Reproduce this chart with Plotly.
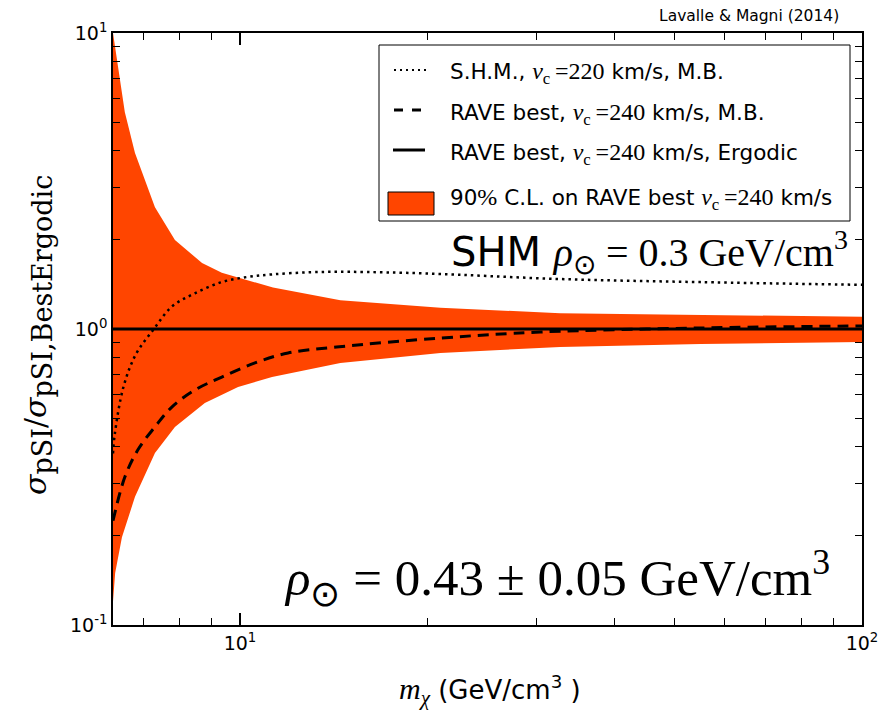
import numpy as np
import plotly.graph_objects as go

# ---------------- data ----------------
# 90% C.L. band on the RAVE best-fit halo (upper and lower edges)
band_upper_mass = [6.25, 6.36, 6.53, 6.78, 7.30, 7.86, 8.69, 9.35, 10.0, 11.3, 14.5, 21.0, 32.7, 55.0, 100.0]
band_upper = [10.0, 7.9, 5.4, 3.93, 2.58, 2.0, 1.67, 1.55, 1.49, 1.38, 1.25, 1.18, 1.13, 1.115, 1.10]
band_lower_mass = [6.25, 6.30, 6.46, 6.78, 7.30, 7.86, 8.78, 9.93, 11.26, 12.7, 14.5, 21.0, 32.7, 55.0, 100.0]
band_lower = [0.12, 0.15, 0.198, 0.271, 0.381, 0.467, 0.562, 0.637, 0.689, 0.727, 0.768, 0.83, 0.869, 0.89, 0.904]

# S.H.M., v_c = 220 km/s, Maxwell-Boltzmann
shm_mass = [6.25, 6.29, 6.5, 6.8, 7.27, 7.77, 8.46, 9.35, 10.3, 11.3, 13.0, 15.0, 20.0, 32.7, 55.0, 100.0]
shm = [0.38, 0.44, 0.64, 0.82, 1.0, 1.19, 1.32, 1.44, 1.50, 1.53, 1.555, 1.56, 1.54, 1.475, 1.44, 1.41]

# RAVE best, v_c = 240 km/s, Maxwell-Boltzmann
mb_mass = [6.25, 6.53, 6.85, 7.30, 7.77, 8.46, 9.35, 10.57, 11.95, 14.3, 21.0, 30.4, 55.0, 100.0]
mb = [0.225, 0.316, 0.39, 0.467, 0.545, 0.622, 0.688, 0.768, 0.83, 0.869, 0.932, 0.977, 1.008, 1.024]

# RAVE best, v_c = 240 km/s, Ergodic (reference)
ergodic_mass = [6.25, 100.0]
ergodic = [1.0, 1.0]

x_major = [10, 100]
x_major_text = ["10<sup>1</sup>", "10<sup>2</sup>"]
x_minor = [7, 8, 9, 20, 30, 40, 50, 60, 70, 80, 90]
y_major = [0.1, 1, 10]
y_major_text = ["10<sup>-1</sup>", "10<sup>0</sup>", "10<sup>1</sup>"]
y_minor = [0.2, 0.3, 0.4, 0.5, 0.6, 0.7, 0.8, 0.9, 2, 3, 4, 5, 6, 7, 8, 9]

ORANGE = "#ff4500"
SANS = "DejaVu Sans"
SERIF = "Liberation Serif"

# ---------------- layout geometry (pixels) ----------------
W, H = 895, 715
L, R, T, B = 113, 33, 33, 90
PW, PH = W - L - R, H - T - B


def px(x):
    return (x - L) / PW


def py(y):
    return (H - B - y) / PH


def serif(s, size=None, family=SERIF):
    extra = f";font-size:{size}px" if size else ""
    return f"<span style='font-family:{family}{extra}'>{s}</span>"


fig = go.Figure()

fig.add_trace(go.Scatter(
    x=band_upper_mass + band_lower_mass[::-1],
    y=band_upper + band_lower[::-1],
    mode="lines", fill="toself", fillcolor=ORANGE,
    line=dict(width=0, color=ORANGE), showlegend=False, hoverinfo="skip"))

fig.add_trace(go.Scatter(
    x=ergodic_mass, y=ergodic, mode="lines",
    line=dict(color="black", width=3), showlegend=False))

fig.add_trace(go.Scatter(
    x=mb_mass, y=mb, mode="lines", line_shape="spline",
    line=dict(color="black", width=3, dash="11px,7px"), showlegend=False))

fig.add_trace(go.Scatter(
    x=shm_mass, y=shm, mode="lines", line_shape="spline",
    line=dict(color="black", width=2.5, dash="2.5px,4px"), showlegend=False))

axis_common = dict(
    showgrid=False, zeroline=False, showline=True, linecolor="black", linewidth=1.5,
    mirror="allticks", ticks="inside", ticklen=12, tickwidth=2, tickcolor="black",
    tickfont=dict(family=SANS, size=19, color="black"),
)

fig.update_xaxes(type="log", range=[np.log10(6.25), 2], tickvals=x_major, ticktext=x_major_text,
                 minor=dict(tickvals=x_minor, ticks="inside", ticklen=7, tickwidth=1.2,
                            tickcolor="black", showgrid=False),
                 **axis_common)
fig.update_yaxes(type="log", range=[-1, 1], tickvals=y_major, ticktext=y_major_text,
                 minor=dict(tickvals=y_minor, ticks="inside", ticklen=7, tickwidth=1.2,
                            tickcolor="black", showgrid=False),
                 **axis_common)

# ---------------- legend (drawn by hand) ----------------
shapes = [
    dict(type="rect", xref="paper", yref="paper", x0=px(379), x1=px(850), y0=py(221), y1=py(45),
         line=dict(color="black", width=1), fillcolor="white", layer="above"),
    dict(type="line", xref="paper", yref="paper", x0=px(394), x1=px(428), y0=py(70), y1=py(70),
         line=dict(color="black", width=2, dash="2px,4px"), layer="above"),
    dict(type="line", xref="paper", yref="paper", x0=px(394), x1=px(421), y0=py(110), y1=py(110),
         line=dict(color="black", width=3, dash="9px,9px"), layer="above"),
    dict(type="line", xref="paper", yref="paper", x0=px(393), x1=px(425), y0=py(150), y1=py(150),
         line=dict(color="black", width=3), layer="above"),
    dict(type="rect", xref="paper", yref="paper", x0=px(388), x1=px(434), y0=py(215), y1=py(192),
         line=dict(color="black", width=1), fillcolor=ORANGE, layer="above"),
]

vc220 = serif("<i>v</i><sub>c</sub>\u2009=220", 24)
vc240 = serif("<i>v</i><sub>c</sub>\u2009=240", 24)
legend_rows = [
    (73, f"S.H.M., {vc220} km/s, M.B."),
    (114, f"RAVE best, {vc240} km/s, M.B."),
    (154, f"RAVE best, {vc240} km/s, Ergodic"),
    (199, f"90{serif('%', 24)} C.L. on RAVE best {vc240} km/s"),
]

annotations = []
for yy, txt in legend_rows:
    annotations.append(dict(xref="paper", yref="paper", x=px(448), y=py(yy), xanchor="left",
                            yanchor="middle", showarrow=False, text=txt,
                            font=dict(family=SANS, size=21.5, color="black")))

YT_FONT = "DejaVu Serif"
sub_big = f"font-family:{YT_FONT};font-size:27px"
annotations += [
    dict(xref="paper", yref="paper", x=px(850), y=py(252), xanchor="right", yanchor="middle",
         showarrow=False,
         text="SHM " + serif("<i>ρ</i><sub>⊙</sub> = 0.3 GeV/cm<sup>3</sup>"),
         font=dict(family=SANS, size=40, color="black")),
    dict(xref="paper", yref="paper", x=px(832), y=py(578), xanchor="right", yanchor="middle",
         showarrow=False,
         text="<i>ρ</i><sub>⊙</sub> = 0.43 ± 0.05 GeV/cm<sup>3</sup>",
         font=dict(family=SERIF, size=51, color="black")),
    dict(xref="paper", yref="paper", x=px(841), y=py(16), xanchor="right", yanchor="middle",
         showarrow=False, text="Lavalle &amp; Magni (2014)",
         font=dict(family=SANS, size=15.5, color="black")),
    dict(xref="paper", yref="paper", x=px(38), y=py(335), xanchor="center", yanchor="middle",
         showarrow=False, textangle=-90,
         text=(f"<i>σ</i><sub><span style='{sub_big}'>pSI</span></sub>/"
               f"<i>σ</i><sub><span style='{sub_big}'>pSI,BestErgodic</span></sub>"),
         font=dict(family=YT_FONT, size=30, color="black")),
    dict(xref="paper", yref="paper", x=px(490), y=py(690), xanchor="center", yanchor="middle",
         showarrow=False,
         text=serif("<i>m</i><sub><i>χ</i></sub>", 30) + " (GeV/cm<sup>3</sup> )",
         font=dict(family=SANS, size=26, color="black")),
]

fig.update_layout(
    width=W, height=H,
    margin=dict(l=L, r=R, t=T, b=B),
    paper_bgcolor="white", plot_bgcolor="white",
    shapes=shapes, annotations=annotations,
    showlegend=False,
)

fig.write_html("out.html")
